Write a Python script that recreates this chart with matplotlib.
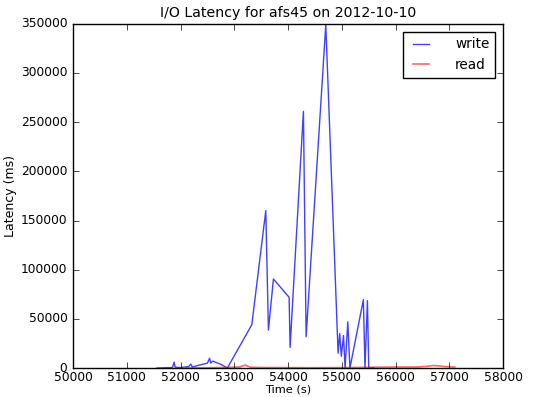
import matplotlib
matplotlib.use("Agg")
import matplotlib.pyplot as plt

# write latency samples (time in s, latency in ms)
write_t = [51560, 51850, 51880, 51900, 52000, 52150, 52190, 52220, 52350, 52500,
           52540, 52560, 52600, 52740, 52870, 53325, 53585, 53634, 53727, 54019,
           54037, 54285, 54335, 54701, 54930, 54960, 54990, 55030, 55060, 55110,
           55150, 55400, 55430, 55475, 55500, 55600]
write_v = [0, 500, 6000, 800, 500, 1500, 4000, 1000, 3000, 5000,
           10000, 5000, 7000, 4000, 0, 44000, 160000, 38600, 90500, 71900,
           21000, 261000, 31800, 349000, 15000, 35000, 12000, 33000, 0, 47000,
           0, 69500, 0, 68500, 0, 0]

# read latency samples
read_t = [52100, 52800, 53100, 53200, 53300, 53500, 54500, 55200, 55600, 56000,
          56400, 56600, 56700, 56800, 56900, 57100]
read_v = [0, 500, 1000, 3000, 800, 500, 300, 500, 800, 1000,
          1000, 1800, 2500, 2200, 1500, 1000]

plt.style.use("classic")
fig = plt.figure(figsize=(5.37, 3.97), dpi=100)
ax = fig.add_axes([0.136, 0.073, 0.801, 0.867])

ax.plot(write_t, write_v, color="b", linewidth=1, alpha=0.75, label="write")
ax.plot(read_t, read_v, color="r", linewidth=1.2, alpha=0.6, label="read")

ax.set_xlim(50000, 58000)
ax.set_ylim(0, 350000)
ax.set_xticks(range(50000, 58001, 1000))
ax.set_yticks(range(0, 350001, 50000))
ax.tick_params(labelsize=8.8)
ax.tick_params(axis="x", pad=2.5)

ax.set_title("I/O Latency for afs45 on 2012-10-10", fontsize=10.2)
ax.set_xlabel("Time (s)", fontsize=8.2, labelpad=-0.3)
ax.set_ylabel("Latency (ms)", fontsize=9, labelpad=3)
ax.legend(loc="upper right", fontsize=9.8, handlelength=1.8, handletextpad=1.6,
          borderaxespad=0.6)

fig.savefig("out.png", dpi=100)
